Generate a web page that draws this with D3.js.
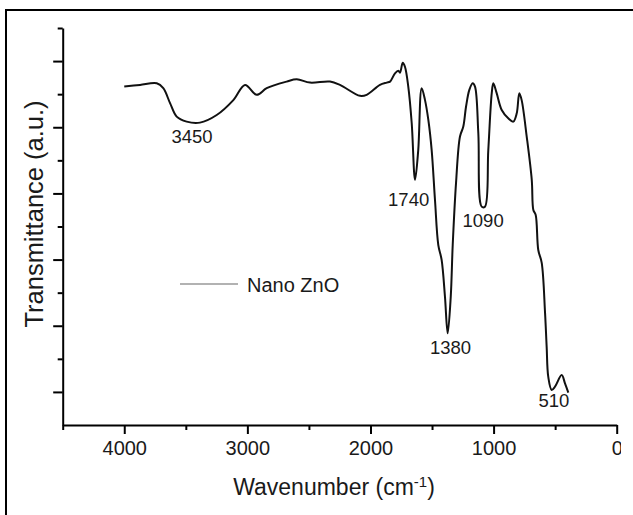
<!DOCTYPE html>
<html lang="en">
<head>
  <meta charset="UTF-8">
  <title>FTIR spectrum - Nano ZnO</title>
  <script src="https://d3js.org/d3.v7.min.js"></script>
  <style>
    body { margin: 0; background: #fff; font-family: 'Liberation Sans', Arial, sans-serif; }
    svg text { fill: #1a1a1a; }
  </style>
</head>
<body>
  <div id="viz"></div>
  <script>
    // Size of the picture
    const width = 633, height = 515;

    // Spectrum: wavenumber (cm-1) and transmittance (arbitrary units)
    const wavenumber = [4000, 3872, 3736, 3683, 3628, 3574, 3493, 3385, 3249, 3114, 3019, 2924, 2843,
      2681, 2599, 2491, 2329, 2248, 2085, 2031, 1923, 1868, 1841, 1801, 1774, 1760, 1738, 1720, 1693,
      1665, 1638, 1612, 1584, 1557, 1530, 1503, 1476, 1449, 1422, 1395, 1373, 1348, 1332, 1305, 1273,
      1246, 1224, 1197, 1170, 1151, 1124, 1097, 1070, 1043, 1015, 1002, 975, 934, 881, 840, 812, 791,
      772, 731, 690, 677, 658, 637, 609, 582, 569, 556, 528, 501, 447, 420, 393];
    const transmittance = [10.23, 10.28, 10.33, 10.18, 9.73, 9.32, 9.17, 9.14, 9.37, 9.82, 10.28, 9.98, 10.18,
      10.38, 10.45, 10.35, 10.38, 10.28, 9.95, 9.98, 10.28, 10.35, 10.38, 10.63, 10.71, 10.65, 10.95, 10.83, 10.23,
      9.12, 7.41, 8.31, 10.18, 9.82, 9.22, 8.31, 6.80, 5.44, 4.99, 3.88, 2.77, 3.88, 5.44, 7.32, 8.72,
      9.02, 9.62, 10.13, 10.33, 10.23, 8.82, 6.60, 6.60, 8.31, 10.03, 10.33, 10.03, 9.52, 9.27, 9.17, 9.42, 10.03,
      9.82, 8.72, 7.41, 6.50, 6.35, 5.29, 4.90, 3.39, 2.37, 1.46, 1.06, 1.16, 1.51, 1.26, 0.98];

    // Peak annotations (label, wavenumber of label centre, transmittance of label baseline)
    const peakLabels = ['3450', '1740', '1380', '1090', '510'];
    const peakX = [3450, 1690, 1350, 1085, 510];
    const peakY = [8.53, 6.62, 2.15, 5.97, 0.54];

    // Tick values
    const xMajor = [4000, 3000, 2000, 1000, 0];
    const xMinor = [4500, 3500, 2500, 1500, 500];
    const yMajor = [1, 3, 5, 7, 9, 11];
    const yMinor = [2, 4, 6, 8, 10, 12];

    const data = wavenumber.map((w, i) => ({ w: w, t: transmittance[i] }));

    const svg = d3.select('#viz')
      .append('svg')
      .attr('width', width)
      .attr('height', height);

    // Outer frame (cut off at the right and bottom like the source)
    svg.append('rect')
      .attr('x', 6).attr('y', 10)
      .attr('width', 660).attr('height', 540)
      .attr('fill', 'none')
      .attr('stroke', '#000')
      .attr('stroke-width', 2);

    // Scales
    const x = d3.scaleLinear().domain([4500, 0]).range([62.7, 616.7]);
    const y = d3.scaleLinear().domain([0, 12]).range([425, 28]);

    // X axis: major ticks with labels, minor ticks without
    const gx = svg.append('g')
      .attr('transform', `translate(0,${y(0)})`)
      .call(d3.axisBottom(x).tickValues(xMajor).tickSize(9).tickSizeOuter(0).tickPadding(7).tickFormat(d3.format('d')));
    svg.append('g')
      .attr('transform', `translate(0,${y(0)})`)
      .call(d3.axisBottom(x).tickValues(xMinor).tickSize(5).tickSizeOuter(0).tickFormat(''))
      .select('.domain').remove();

    // Y axis: no labels
    svg.append('g')
      .attr('transform', `translate(${x(4500)},0)`)
      .call(d3.axisLeft(y).tickValues(yMajor).tickSize(9.5).tickSizeOuter(0).tickFormat(''));
    svg.append('g')
      .attr('transform', `translate(${x(4500)},0)`)
      .call(d3.axisLeft(y).tickValues(yMinor).tickSize(5).tickSizeOuter(0).tickFormat(''))
      .select('.domain').remove();

    svg.selectAll('.domain, .tick line')
      .attr('stroke', '#000')
      .attr('stroke-width', 2);
    gx.selectAll('.tick text')
      .attr('font-family', "'Liberation Sans', Arial, sans-serif")
      .attr('font-size', 20)
      .attr('fill', '#1a1a1a');

    // The source picture is cropped just right of the "0" label
    svg.append('rect')
      .attr('x', 621).attr('y', 432)
      .attr('width', 12).attr('height', 40)
      .attr('fill', '#fff');

    // Spectrum line
    const line = d3.line()
      .x(d => x(d.w))
      .y(d => y(d.t))
      .curve(d3.curveCatmullRom.alpha(0.5));

    svg.append('path')
      .datum(data)
      .attr('fill', 'none')
      .attr('stroke', '#111')
      .attr('stroke-width', 2)
      .attr('stroke-linejoin', 'round')
      .attr('d', line);

    // Peak labels
    svg.selectAll('.peak')
      .data(peakLabels)
      .enter().append('text')
      .attr('class', 'peak')
      .attr('x', (d, i) => x(peakX[i]))
      .attr('y', (d, i) => y(peakY[i]))
      .attr('text-anchor', 'middle')
      .attr('font-size', 18.5)
      .text(d => d);

    // Legend
    svg.append('line')
      .attr('x1', 180).attr('x2', 238)
      .attr('y1', 284).attr('y2', 284)
      .attr('stroke', '#999')
      .attr('stroke-width', 1.5);
    svg.append('text')
      .attr('x', 247).attr('y', 291.5)
      .attr('font-size', 20)
      .text('Nano ZnO');

    // Axis titles
    const xt = svg.append('text')
      .attr('x', 334).attr('y', 495)
      .attr('text-anchor', 'middle')
      .attr('font-size', 23);
    xt.append('tspan').text('Wavenumber (cm');
    xt.append('tspan').attr('font-size', 15).attr('dy', -8).text('-1');
    xt.append('tspan').attr('dy', 8).text(')');

    svg.append('text')
      .attr('transform', 'translate(43,214) rotate(-90)')
      .attr('text-anchor', 'middle')
      .attr('font-size', 25.5)
      .text('Transmittance (a.u.)');
  </script>
</body>
</html>
